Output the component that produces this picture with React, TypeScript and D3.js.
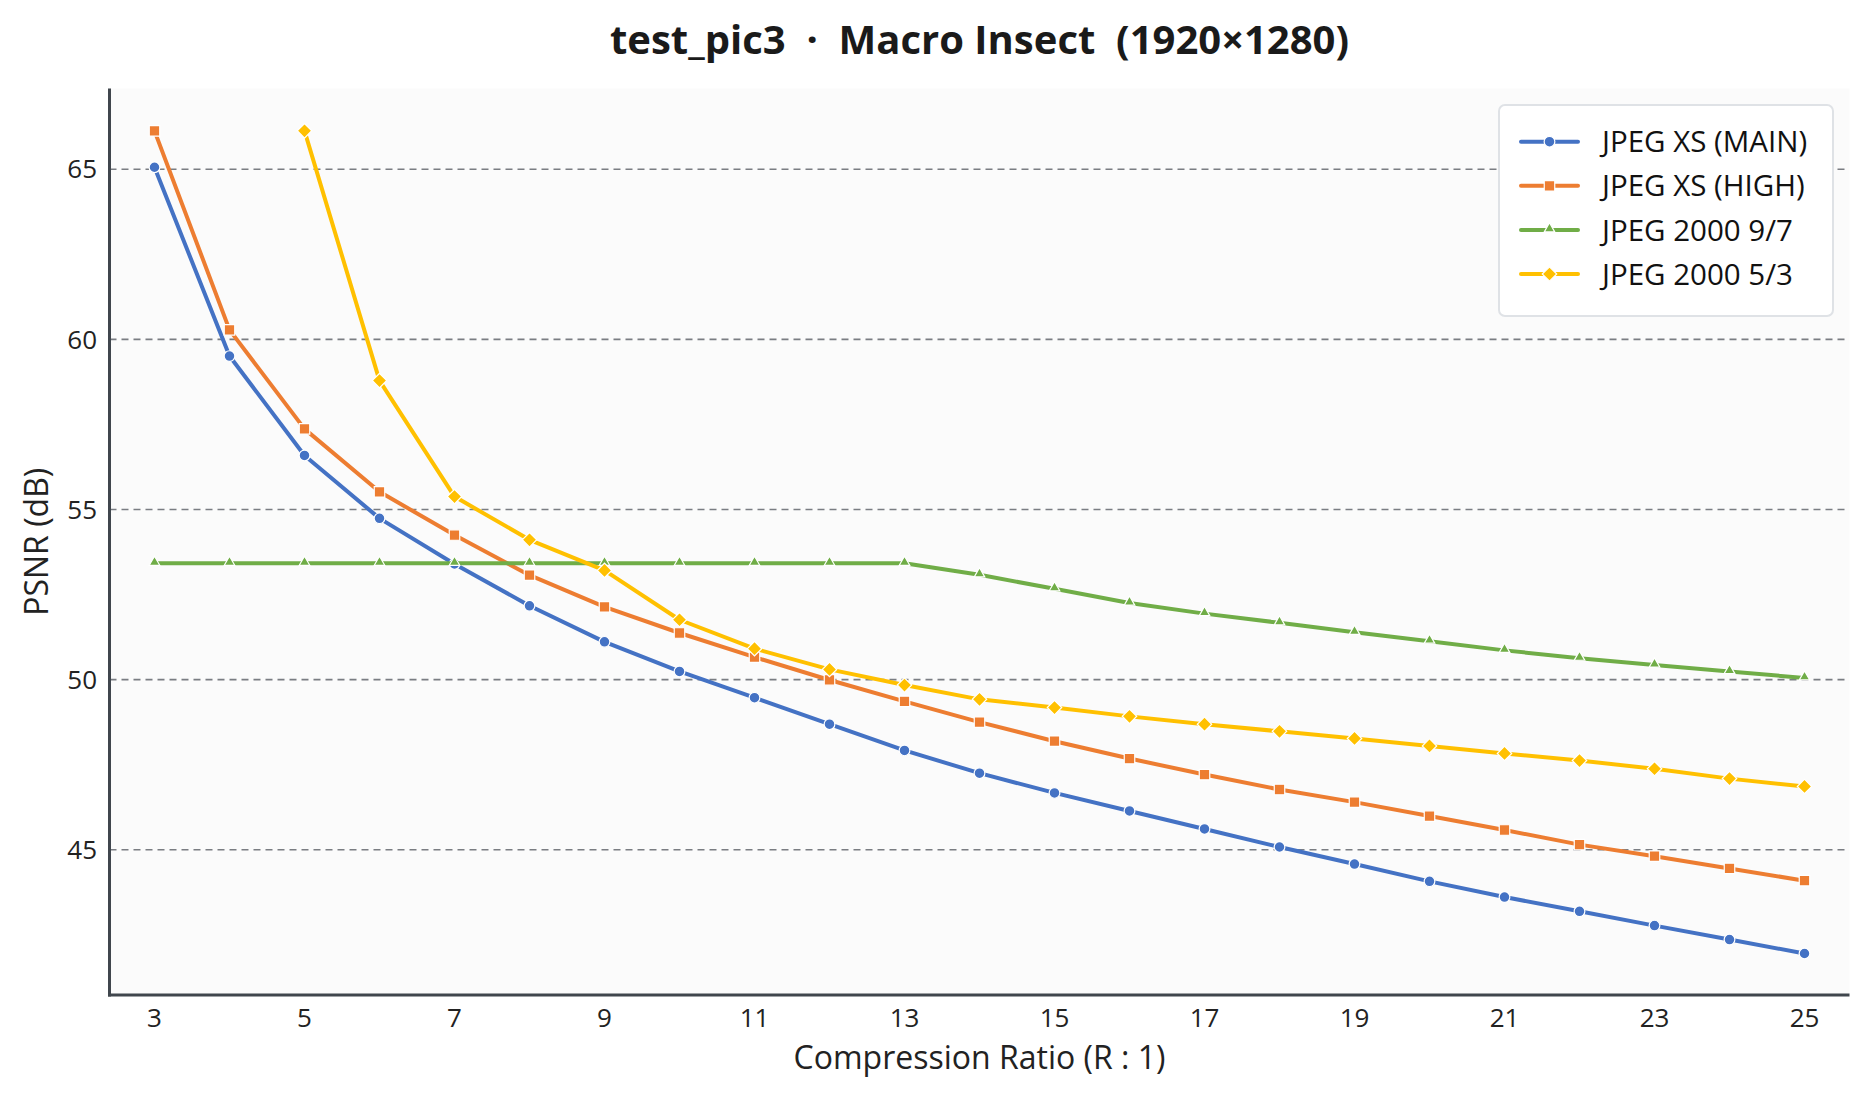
import { useMemo } from 'react';
import * as d3 from 'd3';

// compression ratios (R : 1)
const ratios = [3, 4, 5, 6, 7, 8, 9, 10, 11, 12, 13, 14, 15, 16, 17, 18, 19, 20, 21, 22, 23, 24, 25];

// PSNR in dB per codec
const xsMain = [65.06, 59.51, 56.59, 54.74, 53.40, 52.17, 51.11, 50.24, 49.47, 48.69, 47.92, 47.25, 46.67, 46.14, 45.61, 45.08, 44.58, 44.07, 43.61, 43.19, 42.77, 42.36, 41.95];
const xsHigh = [66.13, 60.28, 57.37, 55.52, 54.25, 53.07, 52.14, 51.37, 50.66, 49.99, 49.36, 48.75, 48.19, 47.68, 47.21, 46.77, 46.40, 45.99, 45.58, 45.15, 44.81, 44.45, 44.09];
const j2k97 = [53.42, 53.42, 53.42, 53.42, 53.42, 53.42, 53.42, 53.42, 53.42, 53.42, 53.42, 53.08, 52.67, 52.25, 51.94, 51.67, 51.39, 51.13, 50.86, 50.63, 50.43, 50.24, 50.05];
const j2k53 = [null, null, 66.13, 58.79, 55.38, 54.11, 53.21, 51.76, 50.91, 50.30, 49.84, 49.42, 49.18, 48.92, 48.69, 48.48, 48.27, 48.05, 47.83, 47.62, 47.38, 47.09, 46.86];

const seriesNames = ['JPEG XS (MAIN)', 'JPEG XS (HIGH)', 'JPEG 2000 9/7', 'JPEG 2000 5/3'];
const seriesColors = ['#4472C4', '#ED7D31', '#70AD47', '#FFC000'];
const seriesMarkers = ['circle', 'square', 'triangle', 'diamond'];

const xTicks = [3, 5, 7, 9, 11, 13, 15, 17, 19, 21, 23, 25];
const yTicks = [45, 50, 55, 60, 65];

const W = 1869;
const H = 1100;
const FONT = '"Open Sans", "Noto Sans", sans-serif';

const symbolPath = (kind: string) => {
  if (kind === 'circle') return d3.symbol(d3.symbolCircle, 90)()!;
  if (kind === 'square') return d3.symbol(d3.symbolSquare, 110)()!;
  if (kind === 'triangle') return d3.symbol(d3.symbolTriangle, 48)()!;
  return d3.symbol(d3.symbolSquare, 104)()!;
};

function Marker({ kind, x, y, color }: { kind: string; x: number; y: number; color: string }) {
  const rot = kind === 'diamond' ? ' rotate(45)' : '';
  const dy = kind === 'triangle' ? -1 : 0;
  return (
    <path
      d={symbolPath(kind)}
      transform={`translate(${x},${y + dy})${rot}`}
      fill={color}
      stroke="#fff"
      strokeWidth={1.2}
    />
  );
}

export default function App() {
  const left = 109.5, right = 1849.5, top = 88.5, bottom = 995;

  const x = useMemo(() => d3.scaleLinear().domain([2.4, 25.6]).range([left, right]), []);
  const y = useMemo(() => d3.scaleLinear().domain([40.73, 67.375]).range([bottom, top]), []);

  const allSeries = [xsMain, xsHigh, j2k97, j2k53];

  const line = d3
    .line<[number, number | null]>()
    .defined(d => d[1] != null)
    .x(d => x(d[0]))
    .y(d => y(d[1] as number));

  const legX = 1499, legY = 105, legW = 334, legH = 211;

  return (
    <svg width={W} height={H} style={{ position: 'absolute', left: 0, top: 0, background: '#fff' }}>
      <rect x={0} y={0} width={W} height={H} fill="#fff" />

      {/* title */}
      <text
        x={(left + right) / 2}
        y={54}
        textAnchor="middle"
        fontFamily={FONT}
        fontWeight={700}
        fontSize={40}
        fill="#1a1a1a"
        style={{ whiteSpace: 'pre' }}
      >
        {'test_pic3  ·  Macro Insect  (1920×1280)'}
      </text>

      {/* plot area */}
      <rect x={left} y={top} width={right - left} height={bottom - top} fill="#fbfbfb" />

      {yTicks.map(t => (
        <line
          key={t}
          x1={left}
          x2={right}
          y1={y(t)}
          y2={y(t)}
          stroke="#7a7d82"
          strokeWidth={1.6}
          strokeDasharray="7,5"
        />
      ))}

      {allSeries.map((vals, i) => {
        const pts = ratios.map((r, k) => [r, vals[k]] as [number, number | null]);
        return (
          <g key={seriesNames[i]}>
            <path d={line(pts) ?? ''} fill="none" stroke={seriesColors[i]} strokeWidth={4} strokeLinejoin="round" />
            {pts
              .filter(p => p[1] != null)
              .map(p => (
                <Marker key={p[0]} kind={seriesMarkers[i]} x={x(p[0])} y={y(p[1] as number)} color={seriesColors[i]} />
              ))}
          </g>
        );
      })}

      {/* spines */}
      <line x1={left} x2={left} y1={top} y2={bottom + 1.5} stroke="#40464d" strokeWidth={3} />
      <line x1={left - 1.5} x2={right} y1={bottom} y2={bottom} stroke="#40464d" strokeWidth={3} />

      {/* tick labels */}
      {xTicks.map(t => (
        <text key={t} x={x(t)} y={1027} textAnchor="middle" fontFamily={FONT} fontSize={26} fill="#222">
          {t}
        </text>
      ))}
      {yTicks.map(t => (
        <text key={t} x={97} y={y(t)} dy="0.35em" textAnchor="end" fontFamily={FONT} fontSize={26} fill="#222">
          {t}
        </text>
      ))}

      {/* axis titles */}
      <text x={(left + right) / 2} y={1069} textAnchor="middle" fontFamily={FONT} fontSize={32} fill="#222">
        Compression Ratio (R : 1)
      </text>
      <text
        transform={`translate(48,${(top + bottom) / 2}) rotate(-90)`}
        textAnchor="middle"
        fontFamily={FONT}
        fontSize={32}
        fill="#222"
      >
        PSNR (dB)
      </text>

      {/* legend */}
      <rect x={legX} y={legY} width={legW} height={legH} rx={6} fill="#fff" stroke="#dfe2e6" strokeWidth={2} />
      {seriesNames.map((name, i) => {
        const cy = 141.7 + i * 44.1;
        return (
          <g key={name}>
            <line x1={1521} x2={1578} y1={cy} y2={cy} stroke={seriesColors[i]} strokeWidth={4} strokeLinecap="round" />
            <Marker kind={seriesMarkers[i]} x={1549.5} y={cy} color={seriesColors[i]} />
            <text x={1602} y={cy} dy="0.36em" fontFamily={FONT} fontSize={29.5} fill="#111">
              {name}
            </text>
          </g>
        );
      })}
    </svg>
  );
}
